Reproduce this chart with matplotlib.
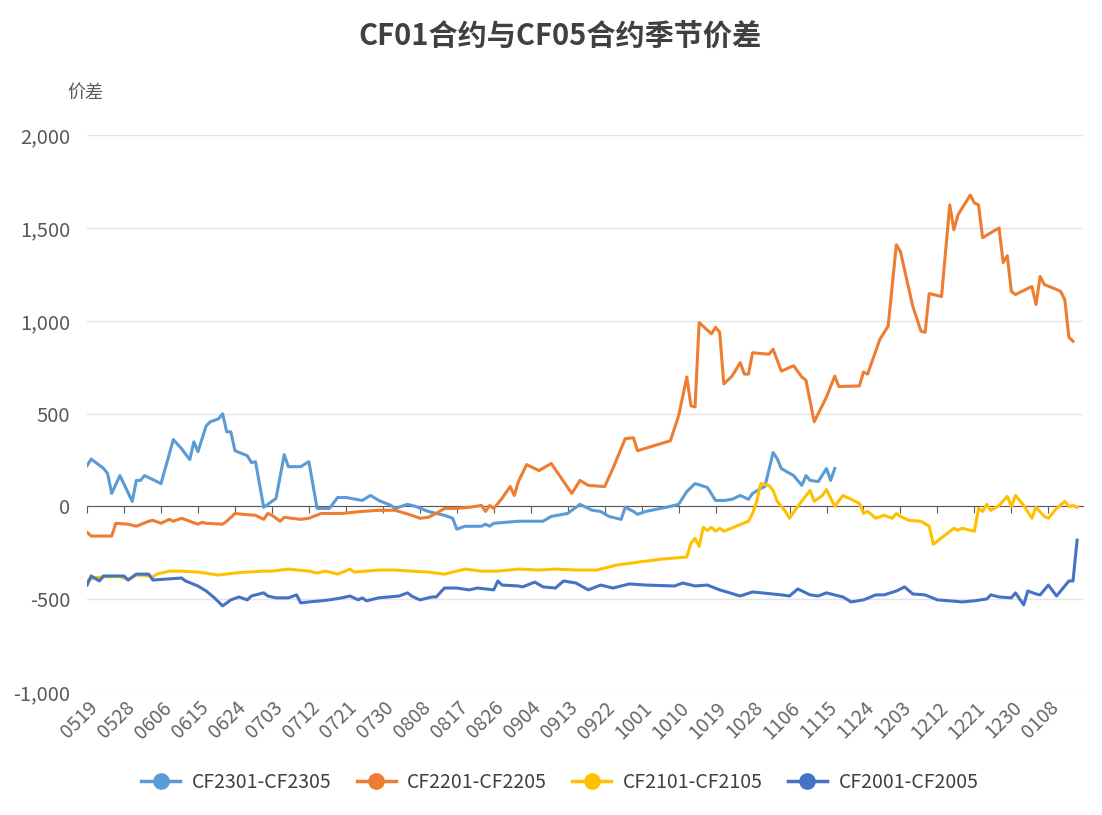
import matplotlib
matplotlib.use('Agg')
import matplotlib.pyplot as plt
from matplotlib.ticker import FuncFormatter

plt.rcParams['font.family'] = ['Noto Sans CJK SC', 'DejaVu Sans']

# x = days after 05-19 (seasonal overlay), y = spread
tick_labels = ['0519', '0528', '0606', '0615', '0624', '0703', '0712', '0721', '0730',
               '0808', '0817', '0826', '0904', '0913', '0922', '1001', '1010', '1019',
               '1028', '1106', '1115', '1124', '1203', '1212', '1221', '1230', '0108']
tick_days = [i * 9 for i in range(len(tick_labels))]

cf2301_days = [0, 1, 4, 5, 6, 8, 11, 12, 13, 14, 18, 21, 23, 25, 26, 27, 29, 30, 32, 33,
               34, 35, 36, 39, 40, 41, 43, 46, 48, 49, 52, 54, 56, 59, 61, 63, 67, 69, 71,
               74, 75, 78, 80, 83, 85, 87, 89, 90, 92, 96, 97, 98, 99, 105, 111, 113, 117,
               118, 120, 122, 123, 125, 127, 130, 131, 133, 134, 136, 141, 144, 146, 148,
               151, 153, 155, 157, 159, 161, 162, 164, 165, 167, 168, 169, 172, 174, 175,
               176, 178, 180, 181, 182]
cf2301 = [220, 255, 205, 177, 70, 166, 27, 140, 140, 166, 123, 360, 311, 252, 348, 295,
          434, 456, 472, 499, 402, 402, 300, 273, 236, 241, -5, 43, 279, 214, 214, 241,
          -11, -11, 48, 48, 32, 59, 32, 5, -11, 11, 0, -27, -38, -48, -64, -123, -107,
          -107, -96, -107, -91, -80, -80, -54, -38, -21, 11, -11, -21, -27, -54, -70, -5,
          -27, -43, -27, -5, 11, 80, 123, 102, 32, 32, 38, 59, 38, 70, 97, 107, 290, 257,
          204, 166, 113, 166, 140, 134, 204, 140, 204]

cf2201_days = [0, 1, 2, 6, 7, 10, 12, 15, 16, 18, 20, 21, 23, 27, 28, 29, 33, 34, 36, 38,
               41, 43, 44, 45, 47, 48, 52, 54, 57, 59, 62, 67, 71, 75, 79, 81, 83, 85, 87,
               90, 93, 96, 97, 98, 99, 101, 103, 104, 105, 107, 110, 113, 116, 118, 120,
               122, 126, 128, 131, 133, 134, 142, 144, 146, 147, 148, 149, 152, 153, 154,
               155, 157, 159, 160, 161, 162, 166, 167, 169, 172, 174, 175, 177, 180, 182,
               183, 188, 189, 190, 193, 195, 197, 198, 201, 203, 204, 205, 208, 210, 211,
               212, 215, 216, 217, 218, 222, 223, 224, 225, 226, 230, 231, 232, 233, 236,
               237, 238, 239, 240]
cf2201 = [-140, -160, -160, -160, -91, -96, -107, -80, -75, -91, -70, -80, -64, -96, -86,
          -91, -96, -80, -38, -43, -48, -70, -38, -48, -80, -59, -70, -64, -38, -38, -38,
          -27, -21, -21, -48, -64, -59, -38, -11, -11, -5, 5, -27, 5, -11, 43, 107, 59,
          134, 225, 193, 231, 134, 70, 140, 113, 107, 204, 365, 370, 300, 354, 488, 697,
          542, 536, 990, 930, 965, 938, 660, 702, 775, 713, 713, 828, 820, 847, 729, 758,
          697, 680, 456, 590, 702, 646, 649, 724, 713, 901, 971, 1410, 1373, 1078, 944,
          938, 1147, 1131, 1625, 1491, 1571, 1678, 1635, 1625, 1448, 1501, 1314, 1351,
          1158, 1142, 1185, 1088, 1239, 1196, 1169, 1158, 1115, 912, 890]

cf2101_days = [0, 2, 4, 8, 10, 12, 14, 16, 17, 20, 23, 27, 32, 36, 39, 43, 45, 49, 54, 56,
               58, 61, 64, 65, 71, 75, 79, 83, 87, 92, 96, 100, 105, 110, 114, 119, 124,
               129, 136, 140, 146, 147, 148, 149, 150, 151, 152, 153, 154, 155, 158, 161,
               162, 163, 164, 166, 167, 168, 170, 171, 173, 176, 177, 179, 180, 182, 184,
               186, 188, 189, 190, 192, 194, 196, 197, 198, 200, 203, 205, 206, 211, 212,
               213, 216, 217, 218, 219, 220, 222, 224, 225, 226, 228, 230, 231, 233, 234,
               236, 238, 239, 240, 241]
cf2101 = [-400, -385, -380, -378, -395, -370, -372, -380, -365, -349, -349, -354, -370,
          -359, -354, -349, -349, -338, -349, -359, -349, -365, -338, -354, -343, -343,
          -349, -354, -365, -338, -349, -349, -338, -343, -338, -343, -343, -316, -295,
          -284, -273, -198, -172, -215, -113, -129, -113, -134, -118, -134, -107, -80,
          -38, 27, 123, 113, 86, 27, -27, -64, 0, 86, 27, 59, 91, 0, 59, 38, 16, -38, -27,
          -64, -48, -64, -38, -54, -75, -80, -107, -204, -118, -129, -118, -134, -11, -27,
          11, -21, 5, 54, 0, 59, 5, -64, -5, -54, -64, -11, 27, 0, 5, -5]

cf2001_days = [0, 1, 3, 4, 9, 10, 12, 15, 16, 23, 24, 27, 29, 31, 33, 35, 37, 39, 40, 43,
               44, 46, 49, 51, 52, 54, 57, 59, 62, 64, 66, 67, 68, 71, 76, 78, 79, 81, 84,
               85, 87, 90, 93, 95, 99, 100, 101, 105, 106, 109, 111, 114, 116, 119, 122,
               125, 128, 132, 136, 143, 145, 148, 151, 154, 159, 162, 169, 171, 173, 176,
               178, 180, 183, 184, 186, 189, 192, 194, 197, 199, 201, 204, 207, 210, 213,
               216, 219, 220, 222, 225, 226, 228, 229, 231, 232, 234, 236, 239, 240, 241]
cf2001 = [-424, -375, -402, -375, -375, -397, -365, -365, -397, -386, -402, -429, -456,
          -493, -536, -504, -488, -504, -483, -466, -483, -493, -493, -477, -520, -515,
          -509, -504, -493, -483, -504, -493, -509, -493, -483, -466, -483, -504, -488,
          -488, -440, -440, -450, -440, -450, -402, -424, -429, -434, -408, -434, -440,
          -402, -413, -450, -424, -440, -418, -424, -429, -413, -429, -424, -450, -483,
          -461, -477, -483, -445, -477, -483, -466, -483, -488, -515, -504, -477, -477,
          -456, -434, -472, -477, -504, -509, -515, -509, -499, -477, -488, -493, -466,
          -531, -456, -472, -477, -424, -483, -402, -402, -182]

series = [
    ('CF2301-CF2305', cf2301_days, cf2301, '#5B9BD5'),
    ('CF2201-CF2205', cf2201_days, cf2201, '#ED7D31'),
    ('CF2101-CF2105', cf2101_days, cf2101, '#FFC000'),
    ('CF2001-CF2005', cf2001_days, cf2001, '#4472C4'),
]

fig = plt.figure(figsize=(11.02, 8.15), dpi=100)
ax = fig.add_axes([0.079, 0.151, 0.904, 0.683])

for name, days, vals, color in series:
    ax.plot(days, vals, color=color, lw=2.2, label=name, solid_joinstyle='round')

ax.set_xlim(0, 242.5)
ax.set_ylim(-1000, 2000)
ax.set_yticks(range(-1000, 2001, 500))
ax.yaxis.set_major_formatter(FuncFormatter(lambda v, p: f'{int(v):,}'))
ax.grid(axis='y', color='#e4e4e4', lw=1)
ax.set_axisbelow(True)
for s in ['top', 'right', 'left']:
    ax.spines[s].set_visible(False)
ax.tick_params(axis='y', length=0, labelsize=14.5, labelcolor='#595959', pad=12)

# category axis sits on the zero line, labels stay at the bottom
ax.spines['bottom'].set_position(('data', 0))
ax.spines['bottom'].set_color('#595959')
ax.spines['bottom'].set_zorder(1)
ax.set_xticks(tick_days)
ax.tick_params(axis='x', length=5, color='#595959', labelbottom=False)

sec = ax.secondary_xaxis(0.0)
sec.set_xticks(tick_days)
sec.set_xticklabels(tick_labels, rotation=45, ha='right', rotation_mode='anchor')
sec.tick_params(length=0, labelsize=14, labelcolor='#666666', pad=4)
sec.spines['bottom'].set_visible(False)

fig.text(0.077, 0.886, '价差', fontsize=13, color='#595959', ha='center', va='center')
fig.suptitle('CF01合约与CF05合约季节价差', x=0.508, y=0.974, fontsize=21,
             fontweight='bold', color='#404040')

handles = [plt.Line2D([], [], color=c, lw=2.5, marker='o', markersize=11)
           for _, _, _, c in series]
fig.legend(handles, [s[0] for s in series], loc='center', bbox_to_anchor=(0.508, 0.040),
           ncol=4, frameon=False, fontsize=14, labelcolor='#404040',
           handlelength=2.0, columnspacing=1.3, handletextpad=0.6)

fig.savefig('out.png', dpi=100)
